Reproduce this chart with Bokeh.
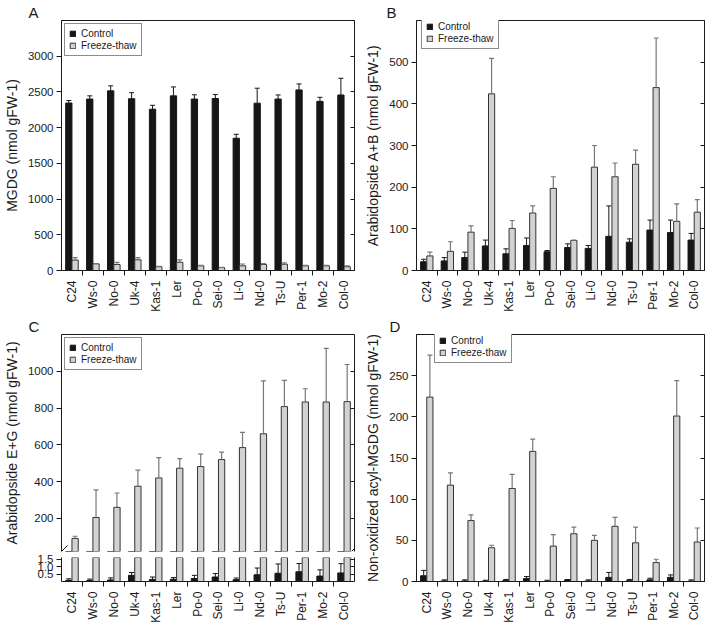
import math
from bokeh.plotting import figure
from bokeh.models import (ColumnDataSource, Range1d, FixedTicker, LinearAxis, Whisker, TeeHead,
                          Legend, LegendItem, Arrow, PrintfTickFormatter)
from bokeh.layouts import row, column
from bokeh.transform import dodge
from bokeh.embed import file_html
from bokeh.resources import INLINE

# ---------------- data ----------------
accessions = ["C24", "Ws-0", "No-0", "Uk-4", "Kas-1", "Ler", "Po-0", "Sei-0",
              "Li-0", "Nd-0", "Ts-U", "Per-1", "Mo-2", "Col-0"]

# A: MGDG
mgdg_control = [2345, 2400, 2515, 2405, 2258, 2445, 2400, 2408, 1852, 2342, 2400, 2528, 2368, 2457]
mgdg_control_err = [35, 45, 70, 85, 55, 125, 60, 55, 55, 210, 58, 84, 57, 234]
mgdg_freeze = [146, 93, 84, 150, 53, 115, 66, 40, 66, 84, 88, 66, 66, 53]
mgdg_freeze_err = [35, 5, 30, 30, 4, 35, 6, 4, 25, 12, 18, 5, 5, 13]
mgdg_ticks = [0, 500, 1000, 1500, 2000, 2500, 3000]

# B: Arabidopside A+B
ab_control = [21, 23, 31, 59, 40, 60, 45, 55, 53, 82, 68, 97, 91, 73]
ab_control_err = [6, 8, 13, 14, 12, 18, 3, 9, 7, 73, 8, 24, 30, 16]
ab_freeze = [35, 46, 92, 424, 101, 138, 197, 72, 248, 225, 255, 439, 118, 140]
ab_freeze_err = [9, 23, 15, 85, 19, 17, 28, 1, 52, 33, 34, 119, 42, 30]
ab_ticks = [0, 100, 200, 300, 400, 500]

# C: Arabidopside E+G (broken axis)
eg_control = [0.08, 0.06, 0.10, 0.41, 0.14, 0.15, 0.20, 0.30, 0.12, 0.45, 0.55, 0.65, 0.36, 0.57]
eg_control_err = [0.10, 0.10, 0.14, 0.19, 0.16, 0.11, 0.21, 0.23, 0.11, 0.45, 0.62, 0.55, 0.42, 0.62]
eg_freeze = [91, 205, 260, 375, 420, 473, 482, 520, 585, 660, 808, 833, 833, 835]
eg_freeze_err = [12, 150, 78, 87, 110, 52, 68, 40, 83, 288, 142, 72, 292, 202]
eg_ticks_upper = [200, 400, 600, 800, 1000]
eg_ticks_lower = [0.5, 1.0, 1.5]

# D: Non-oxidized acyl-MGDG
nox_control = [7, 0.7, 0.7, 0.5, 1.5, 3.5, 0.3, 2, 0.7, 5, 1, 2, 5, 0.5]
nox_control_err = [6.5, 1.3, 1.3, 1, 1, 2.5, 1.2, 0.3, 1.3, 6, 1.5, 2, 3, 1.5]
nox_freeze = [224, 117, 74, 41, 113, 158, 43, 58, 50, 67, 47, 23, 201, 48]
nox_freeze_err = [51, 15, 7, 3, 17, 15, 14, 8, 6, 11, 19, 4, 43, 17]
nox_ticks = [0, 50, 100, 150, 200, 250]

# ---------------- style ----------------
FONT = "Liberation Sans"
INK = "#1a1a1a"
CTRL = "#161616"
FT = "#d2d2d2"
FT_LINE = "#333333"
FT_ERR = "#777777"
BAR_W = 0.3
OFF = 0.15

xpos = list(range(len(accessions)))
bounds = [i + 0.5 for i in xpos[:-1]]


def make_source(ctrl, ctrl_err, frz, frz_err):
    return ColumnDataSource(dict(
        x=xpos, c=ctrl, c_hi=[v + e for v, e in zip(ctrl, ctrl_err)],
        f=frz, f_hi=[v + e for v, e in zip(frz, frz_err)]))


def new_fig(w, h, left, right, top, bottom, yr, letter=None, letter_dx=0):
    p = figure(width=w, height=h, x_range=Range1d(-0.5, len(accessions) - 0.5),
               y_range=Range1d(*yr), output_backend="svg", toolbar_location=None, tools="",
               x_axis_location=None, y_axis_location=None,
               min_border_left=left, min_border_right=right,
               min_border_top=top, min_border_bottom=bottom,
               background_fill_color="white", border_fill_color="white")
    p.xgrid.visible = False
    p.ygrid.visible = False
    p.outline_line_color = None
    if letter is not None:
        p.title.text = letter
        p.title.align = "left"
        p.title.offset = letter_dx
        p.title.standoff = 0
        p.title.text_font = FONT
        p.title.text_font_size = "15px"
        p.title.text_font_style = "normal"
        p.title.text_color = INK
    return p


def style_axis(ax):
    ax.axis_line_color = INK
    ax.axis_line_width = 1
    ax.major_tick_line_color = INK
    ax.minor_tick_line_color = None
    ax.major_label_text_font = FONT
    ax.major_label_text_color = INK
    ax.axis_label_text_font = FONT
    ax.axis_label_text_font_style = "normal"
    ax.axis_label_text_color = INK


def add_left(p, ticks, label=None, fmt=None):
    ax = LinearAxis(ticker=FixedTicker(ticks=ticks), axis_label=label)
    style_axis(ax)
    ax.major_tick_out = 5
    ax.major_tick_in = 0
    ax.major_label_text_font_size = "11.5px"
    ax.axis_label_text_font_size = "14px"
    ax.major_label_standoff = 3
    ax.axis_label_standoff = 5
    if fmt is not None:
        ax.formatter = fmt
    p.add_layout(ax, "left")


def add_right(p, ticks):
    ax = LinearAxis(ticker=FixedTicker(ticks=ticks),
                    major_label_overrides={t: "" for t in ticks})
    style_axis(ax)
    ax.major_tick_in = 4
    ax.major_tick_out = 0
    ax.major_label_standoff = 0
    ax.major_label_text_font_size = "0px"
    ax.axis_label_standoff = 0
    p.add_layout(ax, "right")


def add_top(p):
    ax = LinearAxis(ticker=FixedTicker(ticks=[]))
    style_axis(ax)
    ax.major_tick_line_color = None
    ax.major_tick_out = 0
    ax.major_label_standoff = 0
    ax.major_label_text_font_size = "0px"
    ax.axis_label_standoff = 0
    p.add_layout(ax, "above")


def add_bottom(p):
    ax = LinearAxis(ticker=FixedTicker(ticks=xpos, minor_ticks=bounds),
                    major_label_overrides={i: a for i, a in zip(xpos, accessions)})
    style_axis(ax)
    ax.major_tick_line_color = None
    ax.major_tick_out = 0
    ax.major_tick_in = 0
    ax.minor_tick_line_color = INK
    ax.minor_tick_out = 5
    ax.minor_tick_in = 0
    ax.major_label_orientation = math.pi / 2
    ax.major_label_text_font_size = "12px"
    ax.major_label_standoff = 5
    ax.axis_label_standoff = 0
    p.add_layout(ax, "below")


def add_bars(p, src, ctrl_err=True, frz_err=True):
    rc = p.vbar(x=dodge("x", -OFF), top="c", bottom=0, width=BAR_W, source=src,
                fill_color=CTRL, line_color=CTRL, line_width=1)
    rf = p.vbar(x=dodge("x", OFF), top="f", bottom=0, width=BAR_W, source=src,
                fill_color=FT, line_color=FT_LINE, line_width=1)
    if ctrl_err:
        p.add_layout(Whisker(source=src, base=dodge("x", -OFF), lower="c", upper="c_hi",
                             line_color=CTRL, line_width=1, level="overlay",
                             upper_head=TeeHead(size=5, line_color=CTRL, line_width=1),
                             lower_head=None))
    if frz_err:
        p.add_layout(Whisker(source=src, base=dodge("x", OFF), lower="f", upper="f_hi",
                             line_color=FT_ERR, line_width=1.2, level="overlay",
                             upper_head=TeeHead(size=5, line_color=FT_ERR, line_width=1.2),
                             lower_head=None))
    return rc, rf


def add_legend(p, rc, rf, location):
    lg = Legend(items=[LegendItem(label="Control", renderers=[rc]),
                       LegendItem(label="Freeze-thaw", renderers=[rf])],
                location=location, margin=3, padding=4, spacing=1,
                glyph_width=7, glyph_height=7, label_height=11, label_standoff=5,
                label_text_font=FONT, label_text_font_size="10px", label_text_color=INK,
                border_line_color=INK, border_line_width=1, background_fill_alpha=1.0)
    p.add_layout(lg)


# ---------------- layout numbers ----------------
W1, W2 = 358, 349
LB = 58
R1, R2 = 4, 3
TOP, BOT = 20, 38
H1 = 314
HCU, HCL = 240, 71
HD = HCU + HCL

# ---------------- panel A ----------------
srcA = make_source(mgdg_control, mgdg_control_err, mgdg_freeze, mgdg_freeze_err)
pA = new_fig(W1, H1, LB, R1, TOP, BOT, (0, 3500), "A", -33)
pA.outline_line_color = INK
rc, rf = add_bars(pA, srcA)
add_left(pA, mgdg_ticks, "MGDG (nmol gFW-1)")
add_right(pA, mgdg_ticks)
add_bottom(pA)
add_legend(pA, rc, rf, "top_left")

# ---------------- panel B ----------------
srcB = make_source(ab_control, ab_control_err, ab_freeze, ab_freeze_err)
pB = new_fig(W2, H1, LB, R2, TOP, BOT, (0, 600), "B", -30)
pB.outline_line_color = INK
rc, rf = add_bars(pB, srcB)
add_left(pB, ab_ticks, "Arabidopside A+B (nmol gFW-1)")
add_right(pB, ab_ticks)
add_bottom(pB)
add_legend(pB, rc, rf, (5, H1 - TOP - BOT - 4 - 31))

# ---------------- panel C (broken axis) ----------------
srcC = make_source(eg_control, eg_control_err, eg_freeze, eg_freeze_err)
fhl = HCL - 3 - BOT
fwc = W1 - LB - R1

pCu = new_fig(W1, HCU, LB, R1, TOP, 3, (20, 1200), "C", -33)
rc, rf = add_bars(pCu, srcC, ctrl_err=False, frz_err=True)
add_left(pCu, eg_ticks_upper, "Arabidopside E+G (nmol gFW-1)")
add_right(pCu, eg_ticks_upper)
add_top(pCu)
add_legend(pCu, rc, rf, "top_left")
for xs in (0, fwc - 6):
    pCu.add_layout(Arrow(x_start=xs, y_start=0, x_end=xs + 6, y_end=6,
                         start_units="screen", end_units="screen", end=None,
                         line_color=INK, line_width=1))

pCl = new_fig(W1, HCL, LB, R1, 3, BOT, (0, 1.6))
add_bars(pCl, srcC, ctrl_err=True, frz_err=False)
add_left(pCl, eg_ticks_lower, None, PrintfTickFormatter(format="%.1f"))
add_right(pCl, eg_ticks_lower)
add_bottom(pCl)
for xs in (0, fwc - 6):
    pCl.add_layout(Arrow(x_start=xs, y_start=fhl - 6, x_end=xs + 6, y_end=fhl,
                         start_units="screen", end_units="screen", end=None,
                         line_color=INK, line_width=1))

# ---------------- panel D ----------------
srcD = make_source(nox_control, nox_control_err, nox_freeze, nox_freeze_err)
fhd = HD - TOP - BOT
pD = new_fig(W2, HD, LB, R2, TOP, BOT, (0, 300), "D", -27)
pD.outline_line_color = INK
rc, rf = add_bars(pD, srcD)
add_left(pD, nox_ticks, "Non-oxidized acyl-MGDG (nmol gFW-1)")
add_right(pD, nox_ticks)
add_bottom(pD)
add_legend(pD, rc, rf, (18, fhd - 4 - 31))

layout = column(row(pA, pB), row(column(pCu, pCl), pD))

open("out.html", "w").write(file_html(layout, INLINE))
